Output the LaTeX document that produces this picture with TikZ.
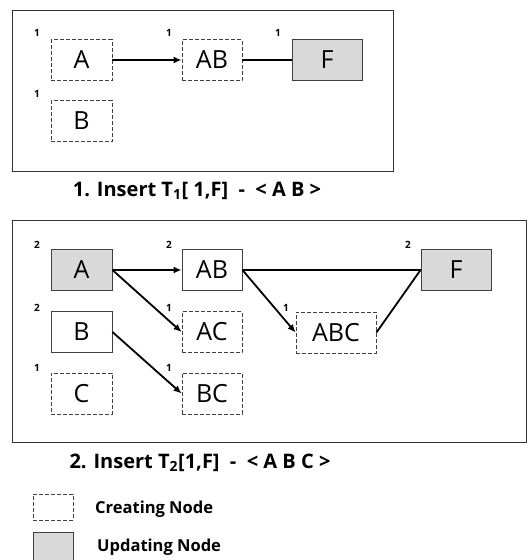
\documentclass[tikz,border=0pt]{standalone}
\usepackage{fontspec}
\setmainfont{Open Sans}
\usetikzlibrary{arrows.meta}

\begin{document}
\begin{tikzpicture}[x=1pt,y=-1pt,
  box/.style={draw=black!75,line width=0.9pt,minimum height=41pt,inner sep=0pt,
    font=\fontsize{25}{25}\selectfont},
  newbox/.style={box,dash pattern=on 4pt off 2pt},
  updbox/.style={box,fill=gray!30},
  cnt/.style={font=\bfseries\fontsize{10}{10}\selectfont,inner sep=0pt},
  link/.style={line width=1.8pt},
  arr/.style={link,-{Latex[length=8pt,width=7pt]}},
  caption/.style={font=\bfseries\fontsize{20}{20}\selectfont,inner sep=0pt},
  legtext/.style={font=\bfseries\fontsize{16.5}{16.5}\selectfont,anchor=west,inner sep=0pt}]
  \useasboundingbox (0,0) rectangle (528,560);

  % step 1
  \draw[black!80,line width=0.8pt] (12,10) rectangle (393,171);
  \node[newbox,minimum width=61pt] (A1) at (81.5,60) {A};
  \node[newbox,minimum width=61pt] (B1) at (81.5,121) {B};
  \node[newbox,minimum width=60pt] (AB1) at (212,60) {AB};
  \node[updbox,minimum width=70pt] (F1) at (327,60) {F};
  \node[cnt] (nA1) at (37,33) {1};
  \node[cnt] (nB1) at (37,94) {1};
  \node[cnt] (nAB1) at (169,33) {1};
  \node[cnt] (nF1) at (278,33) {1};
  \draw[arr] (A1) -- (AB1);
  \draw[link] (AB1) -- (F1);
  \node[caption] (cap1) at (197,191) {1. Insert T\textsubscript{1}[ 1,F]\ \ -\ \ < A B >};

  % step 2
  \draw[black!80,line width=0.8pt] (12,220) rectangle (526,442);
  \node[updbox,minimum width=61pt] (A2) at (81.5,270) {A};
  \node[box,minimum width=61pt] (B2) at (81.5,332) {B};
  \node[newbox,minimum width=61pt] (C2) at (81.5,393.5) {C};
  \node[box,minimum width=60pt] (AB2) at (212,270) {AB};
  \node[newbox,minimum width=60pt] (AC2) at (212,332) {AC};
  \node[newbox,minimum width=60pt] (BC2) at (212,393.5) {BC};
  \node[newbox,minimum width=80pt] (ABC2) at (336,332.5) {ABC};
  \node[updbox,minimum width=70pt] (F2) at (456,270) {F};
  \node[cnt] (nA2) at (37,245) {2};
  \node[cnt] (nB2) at (37,308) {2};
  \node[cnt] (nC2) at (37,368) {1};
  \node[cnt] (nAB2) at (169,245) {2};
  \node[cnt] (nAC2) at (169,308) {1};
  \node[cnt] (nBC2) at (169,368) {1};
  \node[cnt] (nABC2) at (286,308) {1};
  \node[cnt] (nF2) at (408,245) {2};
  \draw[arr] (A2.east) -- (AB2.west);
  \draw[arr] (A2.east) -- (AC2.west);
  \draw[arr] (B2.east) -- (BC2.west);
  \draw[arr] (AB2.east) -- (ABC2.west);
  \draw[link] (AB2.east) -- (F2.west);
  \draw[link] (ABC2.east) -- (F2.west);
  \node[caption] (cap2) at (200,463) {2. Insert T\textsubscript{2}[1,F]\ \ -\ \ < A B C >};

  % legend
  \node[newbox,minimum width=40pt,minimum height=26pt] (legnew) at (53,507) {};
  \node[updbox,minimum width=40pt,minimum height=28pt] (legupd) at (53,546) {};
  \node[legtext] (legnewtxt) at (95,509) {Creating Node};
  \node[legtext] (legupdtxt) at (97,547) {Updating Node};
\end{tikzpicture}
\end{document}
